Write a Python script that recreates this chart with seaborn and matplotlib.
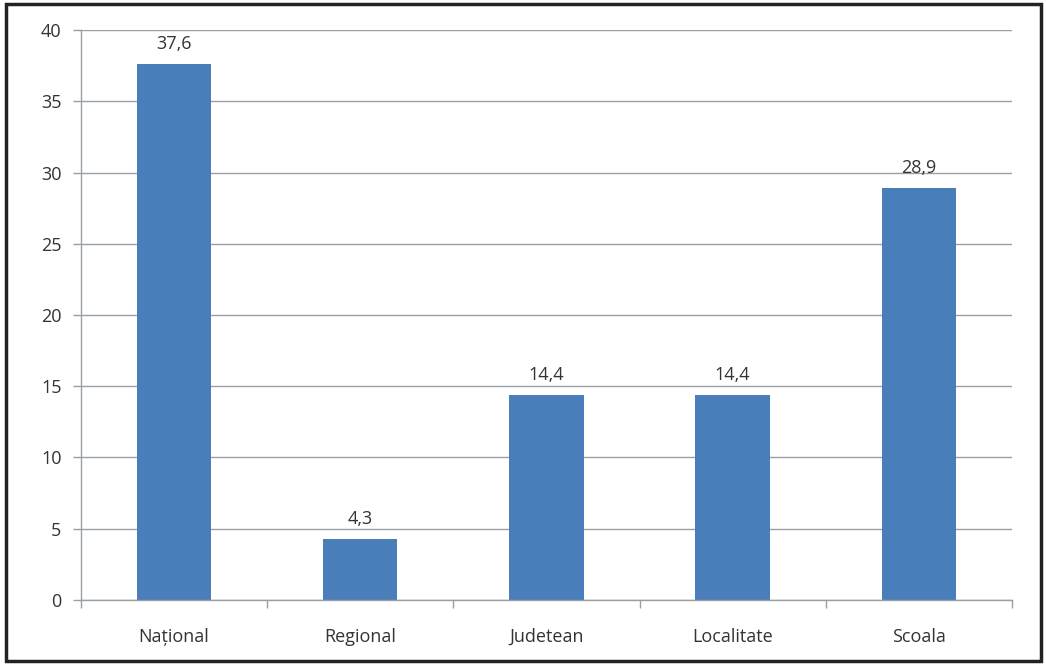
import matplotlib
matplotlib.use("Agg")
import matplotlib.pyplot as plt
from matplotlib.patches import Rectangle
from matplotlib.ticker import FixedLocator
import seaborn as sns
import pandas as pd

categories = ["Național", "Regional", "Judetean", "Localitate", "Scoala"]
values = [37.6, 4.3, 14.4, 14.4, 28.9]
value_labels = ["37,6", "4,3", "14,4", "14,4", "28,9"]
y_ticks = [0, 5, 10, 15, 20, 25, 30, 35, 40]

sns.set_style("white")
plt.rcParams["font.family"] = ["Open Sans", "DejaVu Sans"]

df = pd.DataFrame({"categorie": categories, "valoare": values})

fig = plt.figure(figsize=(10.46, 6.64), dpi=100)
ax = fig.add_axes([0.0774, 0.0964, 0.89, 0.8584])

sns.barplot(data=df, x="categorie", y="valoare", color="#4A7EBB",
            saturation=1, width=0.4, linewidth=0, ax=ax)

ax.set_ylim(0, 40)
ax.set_xlim(-0.5, len(categories) - 0.5)
ax.set_yticks(y_ticks)
ax.set_yticklabels([str(t) for t in y_ticks])
ax.set_xlabel("")
ax.set_ylabel("")

grid_color = "#98A0A6"
text_color = "#333333"
ax.yaxis.grid(True, color=grid_color, linewidth=1.0)
ax.set_axisbelow(True)
for side in ["top", "right"]:
    ax.spines[side].set_visible(False)
ax.spines["left"].set_color(grid_color)
ax.spines["bottom"].set_color(grid_color)
ax.spines["left"].set_linewidth(1.0)
ax.spines["bottom"].set_linewidth(1.0)

# category separators as tick marks below the axis
ax.xaxis.set_minor_locator(FixedLocator([i - 0.5 for i in range(len(categories) + 1)]))
ax.tick_params(axis="x", which="minor", length=6, color=grid_color, width=1.0, bottom=True)
ax.tick_params(axis="x", which="major", length=0, pad=20, labelsize=13, labelcolor=text_color)
ax.tick_params(axis="y", which="major", length=6, color=grid_color, width=1.0, left=True,
               pad=8, labelsize=13, labelcolor=text_color)

for i, (v, lab) in enumerate(zip(values, value_labels)):
    ax.annotate(lab, (i, v), xytext=(0, 8), textcoords="offset points",
                ha="center", va="bottom", fontsize=13, color=text_color)

# frame around the whole figure
fig.patches.append(Rectangle((0.006, 0.004), 0.989, 0.99, transform=fig.transFigure,
                             fill=False, edgecolor="#222222", linewidth=2.5))

fig.savefig("out.png", dpi=100)
